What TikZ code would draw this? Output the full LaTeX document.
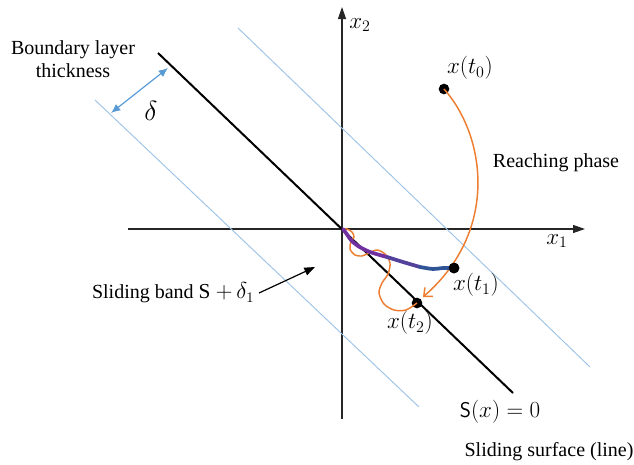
\documentclass[tikz,border=0pt]{standalone}
\usepackage{amsmath,amssymb}
\usepackage{fontspec}
\setmainfont{Liberation Serif}
\usepackage{xcolor}
\usepackage{tikz}
\usetikzlibrary{arrows.meta}

\definecolor{bandblue}{HTML}{9DC3E6}
\definecolor{deltablue}{HTML}{5B9BD5}
\definecolor{reachorange}{HTML}{ED7D31}
\definecolor{slidepurple}{HTML}{7030A0}
\definecolor{slideblue}{HTML}{2F5597}

\tikzset{
  axis/.style={-{Triangle[length=9pt,width=6pt]}, line width=0.9pt, black!85},
  band/.style={bandblue, line width=0.7pt},
  dot/.style={circle, fill=black, inner sep=0pt, minimum size=8pt},
  mathlabel/.style={font=\fontsize{17}{19}\selectfont},
  traj/.style={reachorange, line width=1.1pt},
  slide/.style={line width=2.8pt, line cap=round, line join=round}
}

\begin{document}
\begin{tikzpicture}[x=0.75pt, y=-0.75pt, font=\fontsize{15}{17}\selectfont]
\useasboundingbox (0,0) rectangle (634,464);

% axes
\coordinate (xaxL) at (128,229);
\coordinate (xaxR) at (585,229);
\coordinate (yaxB) at (342,419);
\coordinate (yaxT) at (342,7);
\draw[axis] (xaxL) -- (xaxR);
\draw[axis] (yaxB) -- (yaxT);
\node (xone) [mathlabel] at (557,241) {$x_1$};
\node (xtwo) [mathlabel] at (360,25) {$x_2$};

% boundary layer lines and sliding surface
\coordinate (bandL1) at (95,100);
\coordinate (bandL2) at (419,407);
\coordinate (bandR1) at (238,28);
\coordinate (bandR2) at (590,367);
\draw[band] (bandL1) -- (bandL2);
\draw[band] (bandR1) -- (bandR2);
\coordinate (surfT) at (158,53);
\coordinate (surfB) at (513,393);
\draw[line width=1.5pt] (surfT) -- (surfB);

% thickness
\coordinate (deltaA) at (111,113);
\coordinate (deltaB) at (168,68);
\draw[{Latex[length=7pt,width=6pt]}-{Latex[length=7pt,width=6pt]}, deltablue, line width=0.9pt] (deltaA) -- (deltaB);
\node (delta) at (151,111) {\fontsize{20}{22}\selectfont$\delta$};
\node (layer) [align=center] at (73,59) {Boundary layer\\thickness};

% states
\node (t0) [dot] at (444,89) {};
\node (t1) [dot] at (454,268) {};
\node (t2) [dot] at (417,303) {};
\node (lt0) [mathlabel] at (470,68) {$x(t_0)$};
\node (lt1) [mathlabel] at (476,285) {$x(t_1)$};
\node (lt2) [mathlabel] at (410,323) {$x(t_2)$};
\node (reach) at (556,163) {Reaching phase};

% reaching phase
\coordinate (reachtip) at (423,297);
\draw[traj, -{Straight Barb[length=5pt,width=9pt]}] (t0.center) .. controls (485,135) and (500,230) .. (reachtip);
\draw[traj] plot[smooth] coordinates {(417,303) (406,310) (394,310) (384,304) (379,293) (382,283) (388,274) (390,263) (385,254) (377,250) (369,253) (362,256) (355,255) (350,249) (351,242) (354,237) (352,232) (347,229) (343,229)};

% sliding motion
\draw[slide, slidepurple] plot[smooth] coordinates {(343,229) (346,233) (351,240) (358,246) (370,252) (387,257)};
\draw[slide, slidepurple!55!slideblue] plot[smooth] coordinates {(387,257) (403,262) (420,267)};
\draw[slide, slideblue] plot[smooth] coordinates {(420,267) (433,269) (443,268) (454,268)};
\node (t1top) [dot] at (t1) {};

% labels
\node (bandlabel) [anchor=east] at (259,293) {Sliding band {\fontsize{16}{18}\selectfont S $+\,\delta_1$}};
\coordinate (bandtip) at (315,267);
\draw[-{Triangle[length=8pt,width=6pt]}, line width=0.9pt] (bandlabel.east) -- (bandtip);
\node (surfeq) [font=\fontsize{16}{18}\selectfont] at (500,412) {$\mathsf{S}(x) = 0$};
\node (surfname) at (549,452) {Sliding surface (line)};
\end{tikzpicture}
\end{document}
